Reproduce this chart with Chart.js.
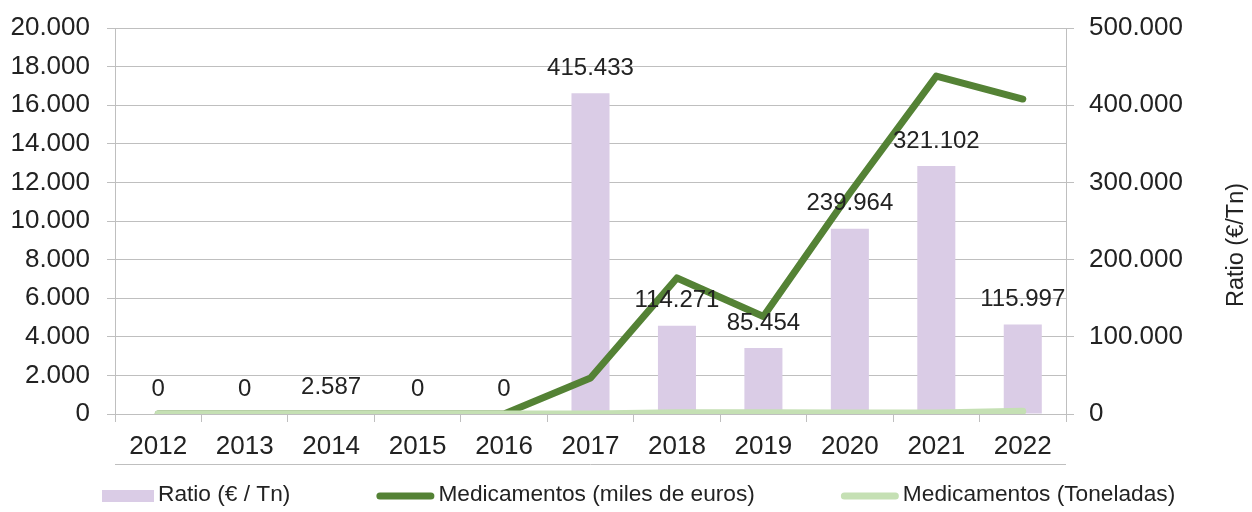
<!DOCTYPE html>
<html>
<head>
<meta charset="utf-8">
<script src="https://cdn.jsdelivr.net/npm/chart.js@4.4.0/dist/chart.umd.min.js"></script>
<style>
    html, body { margin: 0; padding: 0; background: #fff; }
    #wrap { width: 1252px; height: 512px; }
</style>
</head>
<body>
<div id="wrap"><canvas id="chart" width="1252" height="512"></canvas></div>
<script>
// Data
const years = ['2012', '2013', '2014', '2015', '2016', '2017', '2018', '2019', '2020', '2021', '2022'];
const ratioEurTn = [0, 0, 2587, 0, 0, 415433, 114271, 85454, 239964, 321102, 115997];
const medMilesEuros = [0, 0, 0, 0, 0, 1865, 7050, 5050, 11450, 17510, 16320];
const medToneladas = [0, 0, 1, 0, 0, 4.5, 62, 59, 48, 55, 140];

const leftMax = 20000, leftStep = 2000;
const rightMax = 500000, rightStep = 100000;
const rightTitle = 'Ratio (€/Tn)';

const FONT = "'Liberation Sans', Arial, sans-serif";
const TEXT = '#222';
const GRID = '#bfbfbf';
const BAR = '#dacce6';
const DARK = '#548235';
const LIGHT = '#c5e0b4';

// 12345 -> 12.345
const fmt = v => String(Math.round(v)).replace(/\B(?=(\d{3})+(?!\d))/g, '.');

const extras = {
    id: 'extras',
    afterDatasetsDraw(chart) {
        const ctx = chart.ctx;
        const area = chart.chartArea;
        const xs = chart.scales.x;

        // bar value labels
        const meta = chart.getDatasetMeta(0);
        ctx.save();
        ctx.font = `24px ${FONT}`;
        ctx.fillStyle = TEXT;
        ctx.textAlign = 'center';
        ctx.textBaseline = 'middle';
        meta.data.forEach((bar, i) => {
            ctx.fillText(fmt(ratioEurTn[i]), bar.x, bar.y - 25);
        });
        ctx.restore();

        // line under the category labels
        ctx.save();
        ctx.strokeStyle = GRID;
        ctx.lineWidth = 1;
        ctx.beginPath();
        ctx.moveTo(area.left, xs.bottom + 0.5);
        ctx.lineTo(area.right, xs.bottom + 0.5);
        ctx.stroke();
        ctx.restore();
    },
    afterDraw(chart) {
        const ctx = chart.ctx;
        const area = chart.chartArea;

        // right axis title, reading bottom to top
        ctx.save();
        ctx.font = `23.5px ${FONT}`;
        ctx.fillStyle = TEXT;
        ctx.textAlign = 'center';
        ctx.textBaseline = 'middle';
        ctx.translate(area.right + 171, (area.top + area.bottom) / 2 + 24);
        ctx.rotate(-Math.PI / 2);
        ctx.fillText(rightTitle, 0, 0);
        ctx.restore();

        // legend
        ctx.save();
        ctx.font = `22.7px ${FONT}`;
        ctx.textBaseline = 'middle';
        ctx.textAlign = 'left';
        const y = 495;
        let x = area.left - 13;
        chart.data.datasets.forEach(ds => {
            if (ds.type === 'bar') {
                ctx.fillStyle = ds.backgroundColor;
                ctx.fillRect(x, y - 5, 52, 12);
                x += 52;
            } else {
                ctx.strokeStyle = ds.borderColor;
                ctx.lineWidth = 7;
                ctx.lineCap = 'round';
                ctx.beginPath();
                ctx.moveTo(x + 3.5, y + 1);
                ctx.lineTo(x + 54.5, y + 1);
                ctx.stroke();
                x += 58;
            }
            x += 4;
            ctx.fillStyle = TEXT;
            ctx.fillText(ds.label, x, y);
            x += ctx.measureText(ds.label).width + 86;
        });
        ctx.restore();
    }
};

// fixed axis sizes so the plot area sits where the original one does
const fixY = width => s => {
    s.width = width;
    s.paddingTop = 0;
    s.paddingBottom = 0;
};

const ctx = document.getElementById('chart').getContext('2d');
new Chart(ctx, {
    data: {
        labels: years,
        datasets: [
            {
                type: 'bar',
                label: 'Ratio (€ / Tn)',
                data: ratioEurTn,
                backgroundColor: BAR,
                yAxisID: 'y1',
                categoryPercentage: 1,
                barPercentage: 0.44,
                order: 3
            },
            {
                type: 'line',
                label: 'Medicamentos (miles de euros)',
                data: medMilesEuros,
                borderColor: DARK,
                borderWidth: 7,
                borderCapStyle: 'round',
                borderJoinStyle: 'round',
                pointRadius: 0,
                tension: 0,
                yAxisID: 'y',
                order: 2
            },
            {
                type: 'line',
                label: 'Medicamentos (Toneladas)',
                data: medToneladas,
                borderColor: LIGHT,
                borderWidth: 7,
                borderCapStyle: 'round',
                borderJoinStyle: 'round',
                pointRadius: 0,
                tension: 0,
                yAxisID: 'y',
                order: 1
            }
        ]
    },
    options: {
        responsive: false,
        animation: false,
        layout: { padding: { top: 28, bottom: 48, left: 0, right: 0 } },
        plugins: {
            legend: { display: false },
            tooltip: { enabled: false }
        },
        scales: {
            x: {
                offset: true,
                grid: { drawOnChartArea: false, tickLength: 8, color: GRID, offset: true },
                border: { color: GRID },
                ticks: { color: TEXT, font: { family: FONT, size: 26 }, padding: 9, maxRotation: 0 },
                afterFit: s => { s.height = 50; }
            },
            y: {
                position: 'left',
                min: 0,
                max: leftMax,
                grid: { color: GRID, tickLength: 8 },
                border: { color: GRID },
                ticks: { stepSize: leftStep, color: TEXT, font: { family: FONT, size: 26 }, padding: 17, callback: v => fmt(v) },
                afterFit: fixY(115)
            },
            y1: {
                position: 'right',
                min: 0,
                max: rightMax,
                grid: { drawOnChartArea: false, color: GRID, tickLength: 8 },
                border: { color: GRID },
                ticks: { stepSize: rightStep, color: TEXT, font: { family: FONT, size: 26 }, padding: 15, callback: v => fmt(v) },
                afterFit: fixY(186)
            }
        }
    },
    plugins: [extras]
});
</script>
</body>
</html>
